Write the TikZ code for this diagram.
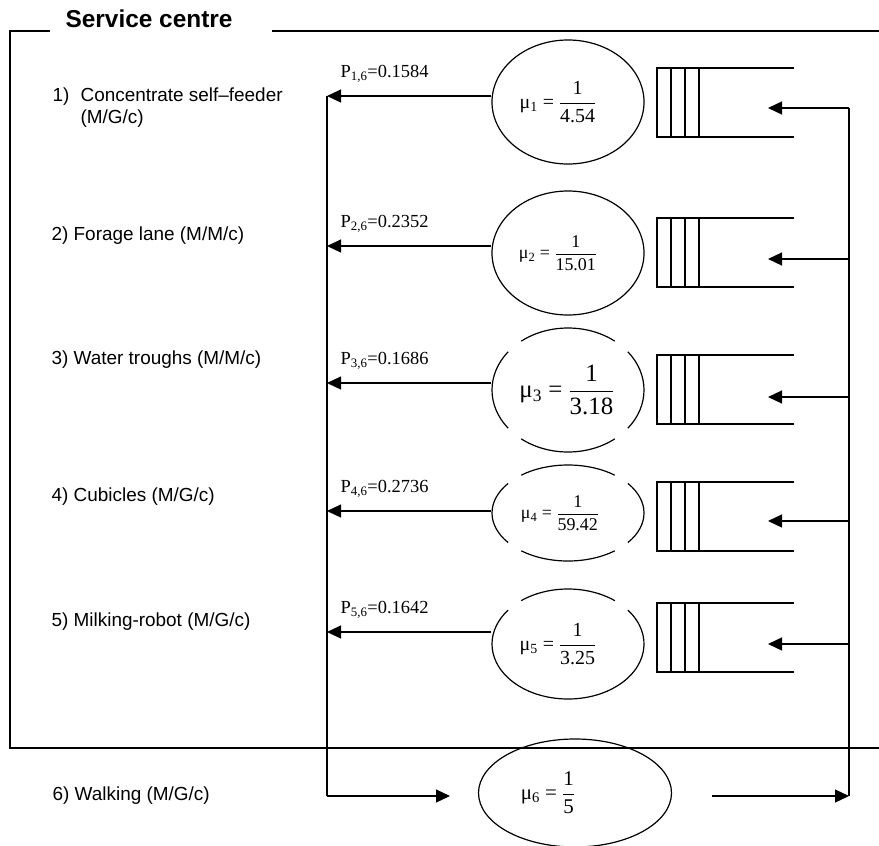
\documentclass[tikz,border=0pt]{standalone}
\usepackage{amsmath}
\usepackage{fontspec}
\setmainfont{Liberation Serif}
\newfontfamily\arialfont{Liberation Sans}
\usetikzlibrary{shapes.geometric, arrows.meta}

\newcommand{\rate}[2]{μ\textsubscript{#1} = $\dfrac{\text{1}}{\text{#2}}$}

\begin{document}
\begin{tikzpicture}[>={Triangle[length=14bp, width=13bp]}, x=1bp, y=-1bp, line width=1.2bp,
    station/.style={ellipse, inner sep=0pt, minimum width=152bp},
    lab/.style={anchor=west, inner sep=0pt, font=\arialfont\fontsize{19}{22}\selectfont},
    plab/.style={anchor=west, inner sep=0pt, font=\fontsize{18.5}{22}\selectfont}]
    \useasboundingbox (0,0) rectangle (879,846);

    % 1. Service centre frame
    \draw (50,31) -- (10,31) -- (10,748) -- (879,748);
    \draw (272,31) -- (879,31);
    \node[anchor=west, inner sep=0pt, font=\arialfont\bfseries\fontsize{24.5}{28}\selectfont] (title) at (65,19) {Service centre};

    % 2. Station names on the left
    \node[lab] (lab1) at (52,97) {1)};
    \node[lab, align=left] (lab1t) at (80,108) {Concentrate self–feeder\\(M/G/c)};
    \node[lab] (lab2) at (51,236) {2) Forage lane (M/M/c)};
    \node[lab] (lab3) at (51,360) {3) Water troughs (M/M/c)};
    \node[lab] (lab4) at (51,497) {4) Cubicles (M/G/c)};
    \node[lab] (lab5) at (51,622) {5) Milking-robot (M/G/c)};
    \node[lab] (lab6) at (52,796) {6) Walking (M/G/c)};

    % 3. Service rates (ellipses)
    \node[station, draw, minimum height=124bp, font=\fontsize{20}{23}\selectfont] (mu1) at (568,102) {\rate{1}{4.54}\hspace{20bp}\null};
    \node[station, draw, minimum height=124bp, font=\fontsize{18}{21}\selectfont] (mu2) at (568,253) {\rate{2}{15.01}\hspace{20bp}\null};
    \node[station, minimum height=124bp, font=\fontsize{25}{28}\selectfont] (mu3) at (568,390) {\rate{3}{3.18}\hspace{2bp}\null};
    \node[station, minimum height=96bp, font=\fontsize{18}{21}\selectfont] (mu4) at (568,513) {\rate{4}{59.42}\hspace{16bp}\null};
    \node[station, minimum height=110bp, font=\fontsize{20}{23}\selectfont] (mu5) at (568,644) {\rate{5}{3.25}\hspace{20bp}\null};
    \node[station, draw, minimum width=193bp, minimum height=108bp, font=\fontsize{21}{24}\selectfont] (mu6) at (575,793) {\rate{6}{5}\hspace{54bp}\null};

    % broken outlines of ellipses 3, 4 and 5
    \foreach \n/\ry in {3/62, 4/48}
        \foreach \a in {52, 142, 232, 322}
            \draw ([shift={(\a:76 and \ry)}]mu\n.center) arc[start angle=\a, delta angle=76, x radius=76, y radius=\ry];
    \draw ([shift={(232:76 and 55)}]mu5.center) arc[start angle=232, delta angle=76, x radius=76, y radius=55];
    \draw ([shift={(322:76 and 55)}]mu5.center) arc[start angle=322, delta angle=256, x radius=76, y radius=55];

    % 4. Queues with arrivals from the right
    \foreach \i/\t/\a in {1/68/108, 2/218/259, 3/355/397, 4/482/521, 5/603/644} {
        \draw (794,\t) -- (657,\t) -- (657,\t+69) -- (794,\t+69);
        \draw (671,\t) -- (671,\t+69) (685,\t) -- (685,\t+69) (699,\t) -- (699,\t+69);
        \coordinate (r\i) at (849,\a);
        \coordinate (q\i) at (768,\a);
        \draw[->] (r\i) -- (q\i);
    }

    % 5. Departures to walking, with routing probabilities
    \foreach \i/\y/\p in {1/96/0.1584, 2/246/0.2352, 3/383/0.1686, 4/511/0.2736, 5/632/0.1642} {
        \coordinate (c\i) at (327,\y);
        \draw[->] (mu\i.west |- c\i) -- (c\i);
        \node[plab] (p\i) at (340,\y-22) {P\textsubscript{\i,6}=\p};
    }

    % 6. Walking loop back to the queues
    \coordinate (c6) at (327,796);
    \coordinate (w6) at (450,796);
    \coordinate (e6) at (712,796);
    \coordinate (r6) at (849,796);
    \draw (c1) -- (c6);
    \draw[->] (c6) -- (w6);
    \draw[->] (e6) -- (r6);
    \draw (r1) -- (r6);

\end{tikzpicture}
\end{document}
